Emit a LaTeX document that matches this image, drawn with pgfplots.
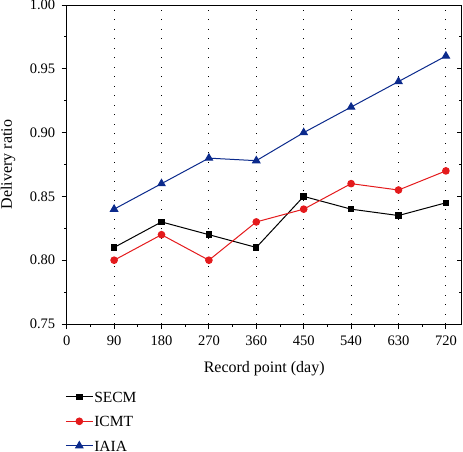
\documentclass[border=0pt]{standalone}
\usepackage{fontspec}
\setmainfont{Liberation Serif}
\usepackage{pgfplots}
\pgfplotsset{compat=1.18}
\definecolor{cred}{HTML}{E41A1C}
\definecolor{cblue}{HTML}{0B2A8C}
\begin{document}
\begin{tikzpicture}
\begin{axis}[
  scale only axis, width=395pt, height=319pt,
  xmin=0, xmax=750, ymin=0.75, ymax=1.00,
  xtick={0,90,...,720}, minor x tick num=1,
  ytick={0.75,0.80,0.85,0.90,0.95,1.00}, minor y tick num=1,
  xtick pos=bottom, ytick pos=left,
  tick align=outside,
  major tick length=5pt, minor tick length=2.5pt,
  tick style={black, line width=0.9pt},
  axis line style={line width=1pt},
  /pgf/number format/assume math mode=true,
  yticklabel style={/pgf/number format/fixed, /pgf/number format/fixed zerofill, /pgf/number format/precision=2, xshift=-3pt},
  xticklabel style={yshift=-3pt},
  ticklabel style={font=\fontsize{14.5}{16}\selectfont},
  xmajorgrids,
  major grid style={black, line width=0.9pt, dash pattern=on 1pt off 8.5pt},
  xlabel={Record point (day)},
  ylabel={Delivery ratio},
  label style={font=\fontsize{16}{18}\selectfont},
  xlabel style={at={(axis description cs:0.5,-0.141)}, anchor=center},
  ylabel style={at={(axis description cs:-0.1486,0.5)}, anchor=center, rotate=0},
  legend style={at={(axis description cs:-0.004,-0.208)}, anchor=north west, draw=none, fill=none,
    font=\fontsize{15.5}{17}\selectfont, inner sep=0pt, row sep=12pt,
    nodes={inner sep=1pt, text height=10.5pt, text depth=0pt}},
  legend cell align=left,
  legend image code/.code={\draw[mark repeat=2,mark phase=2] plot coordinates {(0pt,0pt)(13.5pt,0pt)(27pt,0pt)};},
]
\addplot[black, line width=1pt, mark=square*, mark size=2.7pt] coordinates {
(90,0.81) (180,0.83) (270,0.82) (360,0.81) (450,0.85) (540,0.84) (630,0.835) (720,0.845)};
\addlegendentry{SECM}
\addplot[cred, line width=1pt, mark=*, mark size=3.3pt] coordinates {
(90,0.80) (180,0.82) (270,0.80) (360,0.83) (450,0.84) (540,0.86) (630,0.855) (720,0.87)};
\addlegendentry{ICMT}
\addplot[cblue, line width=1pt, mark=triangle*, mark size=4.2pt] coordinates {
(90,0.84) (180,0.86) (270,0.88) (360,0.878) (450,0.90) (540,0.92) (630,0.94) (720,0.96)};
\addlegendentry{IAIA}
\end{axis}
\begin{axis}[
  scale only axis, width=395pt, height=319pt,
  xmin=0, xmax=750, ymin=0.75, ymax=1.00,
  hide x axis, axis y line*=right,
  ytick={0.75,0.80,0.85,0.90,0.95,1.00}, minor y tick num=1,
  yticklabels={}, tick align=inside,
  major tick length=5pt, minor tick length=2.5pt,
  tick style={black, line width=0.9pt},
  axis line style={line width=1pt},
]
\addplot[draw=none] coordinates {(0,0.8)};
\end{axis}
\pgfresetboundingbox
\useasboundingbox (-66.7pt,-127pt) rectangle (396.3pt,324pt);
\end{tikzpicture}
\end{document}
